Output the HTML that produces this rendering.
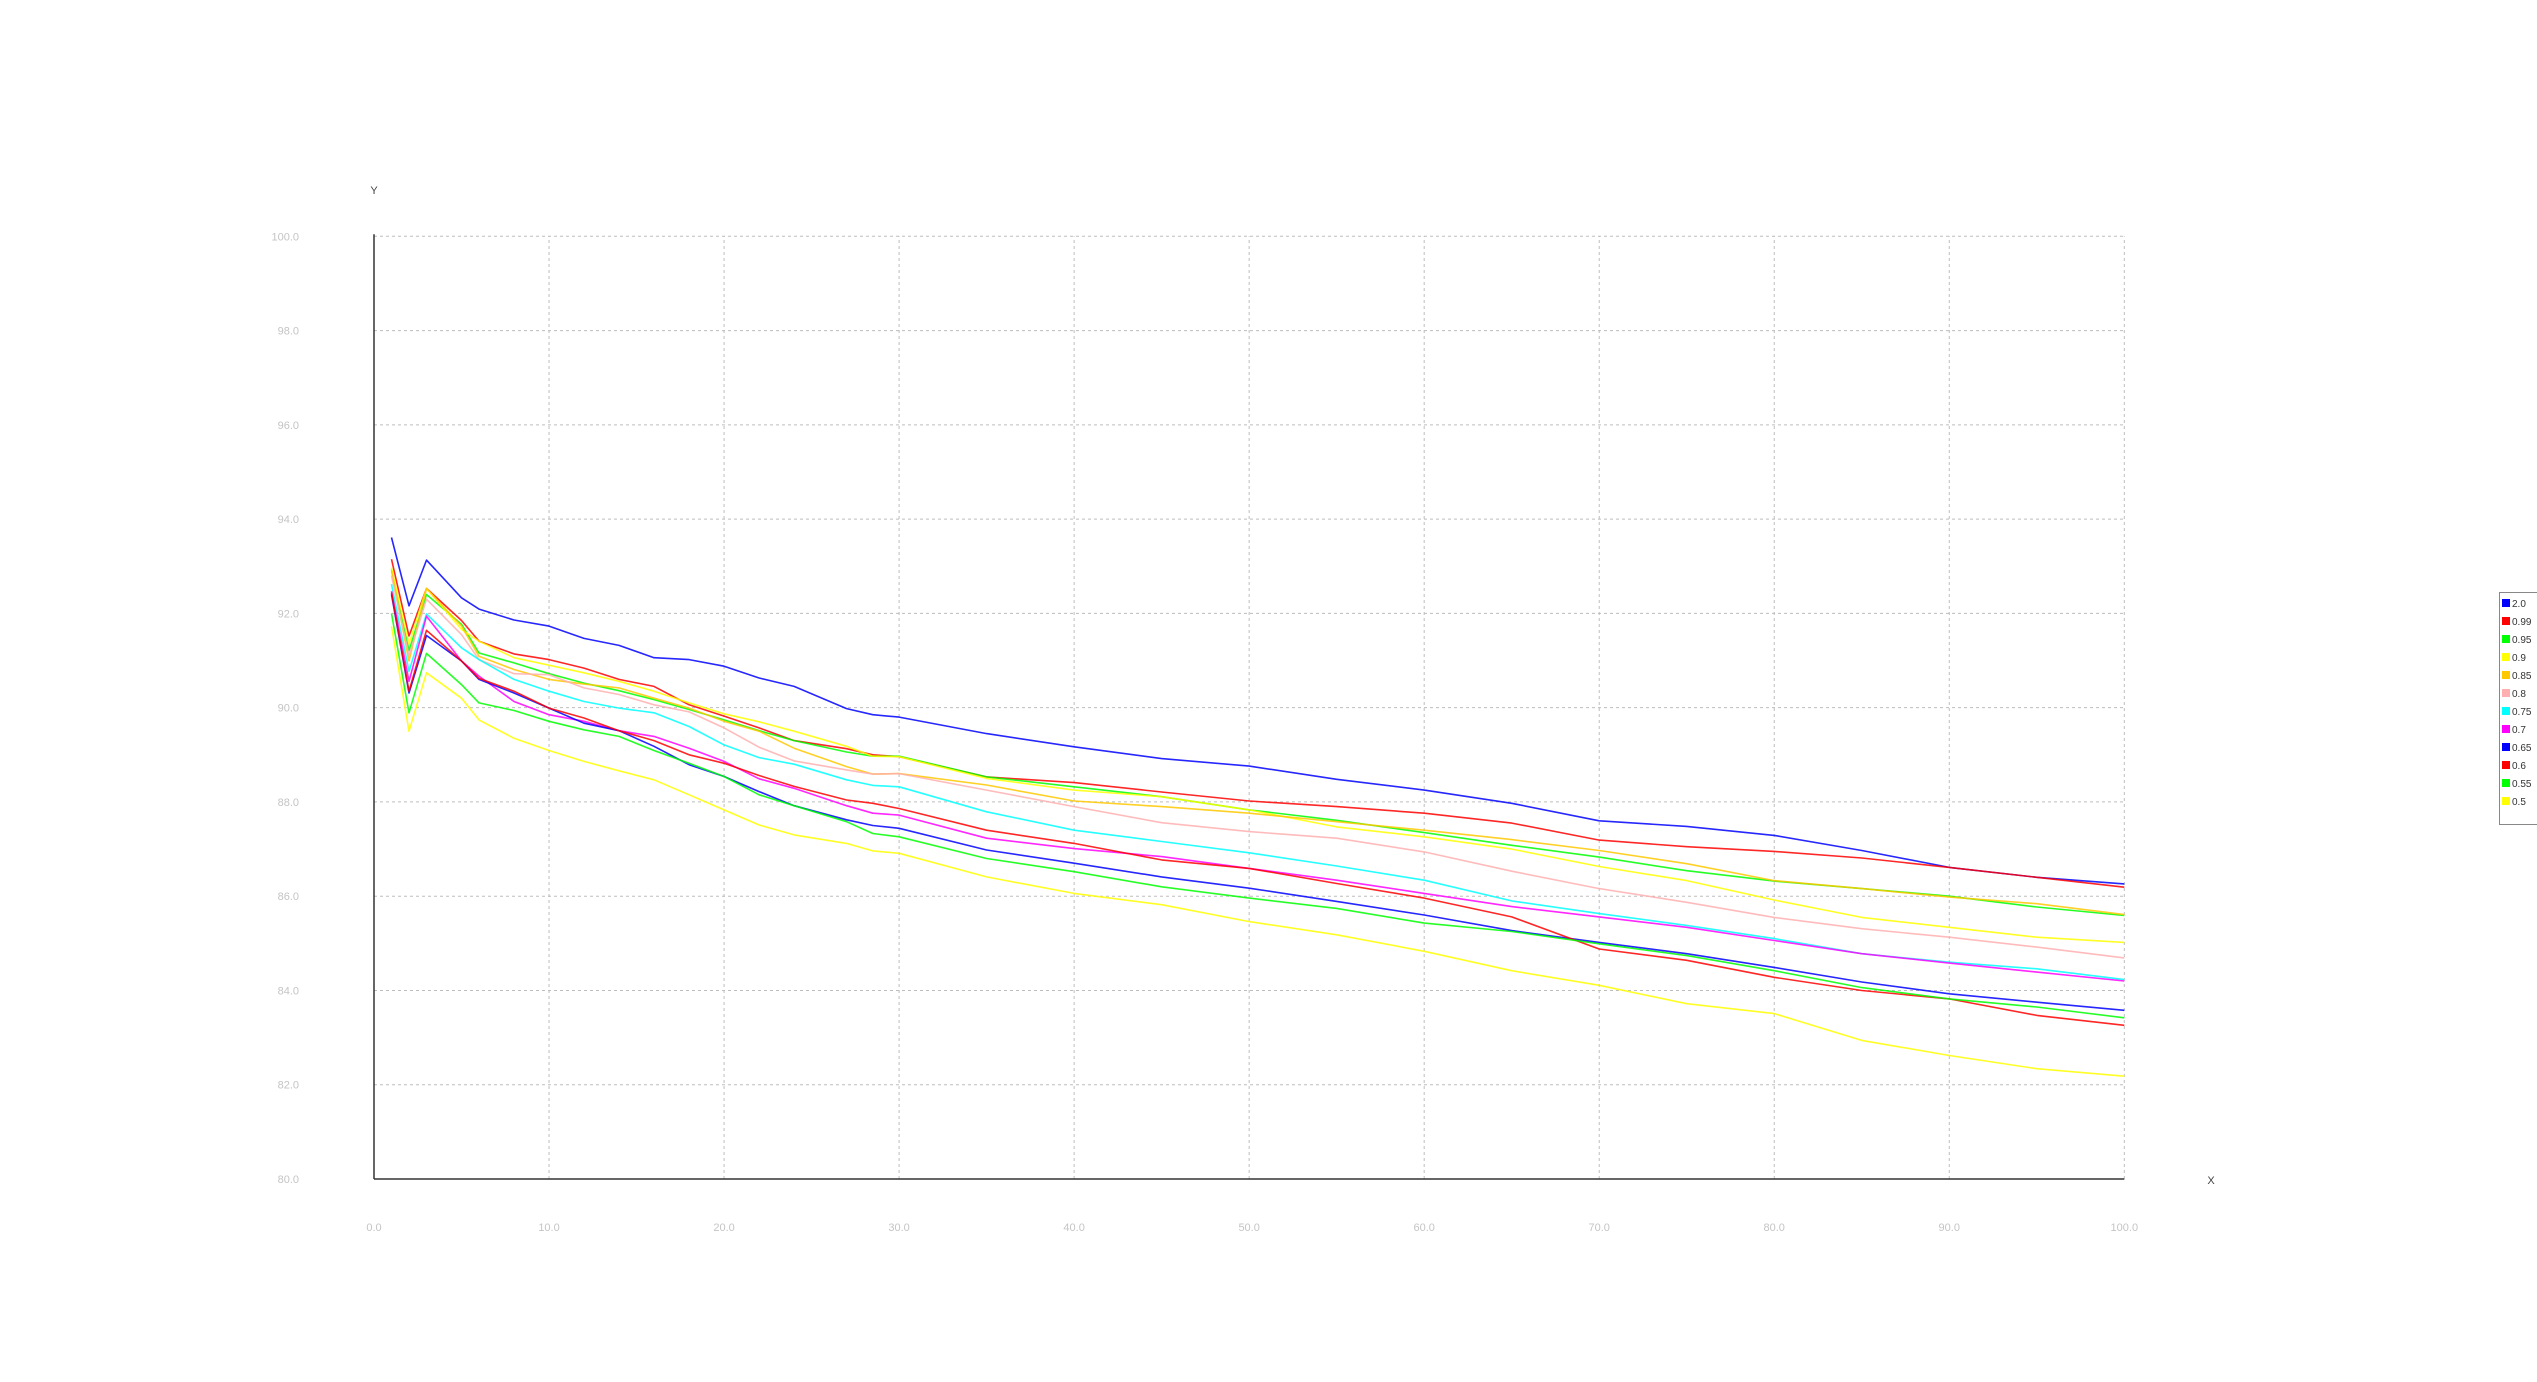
<!DOCTYPE html>
<html><head><meta charset="utf-8"><style>
html,body{margin:0;padding:0;background:#fff;}
svg{display:block;font-family:"Liberation Sans",sans-serif;}
</style></head><body>
<svg id="chart" width="2537" height="1382" xmlns="http://www.w3.org/2000/svg">
<g id="grid"></g>
<g id="axes"></g>
<g id="series"></g>
<g id="legend"></g>
</svg>
<script>
const xValues = [1,2,3,5,6,8,10,12,14,16,18,20,22,24,27,28.5,30,35,40,45,50,55,60,65,70,75,80,85,90,95,100];
const seriesNames = ["2.0","0.99","0.95","0.9","0.85","0.8","0.75","0.7","0.65","0.6","0.55","0.5"];
const seriesColors = ["#0000ff","#ff0000","#00ff00","#ffff00","#ffc800","#ffafaf","#00ffff","#ff00ff","#0000ff","#ff0000","#00ff00","#ffff00"];
const s20 = [93.61,92.16,93.13,92.33,92.09,91.86,91.73,91.47,91.32,91.06,91.02,90.88,90.63,90.45,89.98,89.85,89.8,89.45,89.17,88.92,88.76,88.48,88.25,87.97,87.6,87.48,87.29,86.97,86.61,86.4,86.26];
const s099 = [93.15,91.52,92.53,91.85,91.41,91.14,91.02,90.84,90.6,90.45,90.06,89.82,89.57,89.3,89.13,89.0,88.96,88.53,88.41,88.21,88.02,87.9,87.76,87.55,87.19,87.05,86.95,86.81,86.61,86.4,86.19];
const s095 = [92.94,91.21,92.4,91.77,91.16,90.95,90.72,90.52,90.36,90.17,89.96,89.74,89.51,89.3,89.06,88.97,88.97,88.53,88.32,88.11,87.83,87.61,87.35,87.08,86.83,86.54,86.32,86.16,86.0,85.77,85.59];
const s090 = [92.97,91.35,92.53,91.66,91.41,91.06,90.9,90.74,90.56,90.35,90.1,89.87,89.7,89.5,89.18,88.97,88.96,88.5,88.25,88.11,87.83,87.47,87.26,87.0,86.63,86.33,85.92,85.55,85.34,85.13,85.02];
const s085 = [92.9,90.99,92.53,91.73,91.09,90.81,90.6,90.5,90.42,90.2,89.99,89.71,89.5,89.14,88.75,88.59,88.6,88.36,88.02,87.9,87.76,87.58,87.4,87.2,86.97,86.69,86.33,86.16,85.98,85.84,85.61];
const s080 = [92.8,91.1,92.3,91.55,91.02,90.72,90.7,90.42,90.28,90.06,89.91,89.57,89.16,88.87,88.68,88.59,88.6,88.25,87.9,87.56,87.37,87.23,86.94,86.53,86.16,85.87,85.55,85.31,85.13,84.92,84.69];
const s075 = [92.62,90.77,91.99,91.27,91.02,90.6,90.35,90.13,89.99,89.89,89.6,89.21,88.94,88.8,88.47,88.35,88.32,87.79,87.4,87.16,86.92,86.64,86.34,85.9,85.63,85.38,85.1,84.78,84.6,84.46,84.23];
const s070 = [92.47,90.56,91.94,90.99,90.67,90.13,89.85,89.71,89.51,89.39,89.14,88.86,88.49,88.29,87.92,87.76,87.72,87.23,87.01,86.84,86.59,86.34,86.06,85.78,85.56,85.34,85.06,84.78,84.58,84.39,84.2];
const s065 = [92.4,90.31,91.53,90.99,90.6,90.31,89.99,89.67,89.51,89.18,88.79,88.54,88.22,87.92,87.62,87.5,87.44,86.98,86.7,86.41,86.17,85.89,85.6,85.27,85.02,84.78,84.49,84.18,83.93,83.75,83.58];
const s060 = [92.44,90.35,91.64,90.99,90.62,90.35,89.99,89.78,89.51,89.3,89.0,88.82,88.56,88.33,88.04,87.97,87.86,87.4,87.12,86.77,86.59,86.27,85.96,85.56,84.88,84.64,84.28,84.0,83.82,83.47,83.26];
const s055 = [92.0,89.89,91.15,90.49,90.1,89.94,89.71,89.53,89.39,89.09,88.82,88.54,88.15,87.92,87.58,87.33,87.26,86.8,86.52,86.2,85.96,85.74,85.43,85.25,84.99,84.74,84.42,84.06,83.82,83.65,83.42];
const s050 = [91.73,89.5,90.74,90.2,89.74,89.35,89.09,88.86,88.66,88.47,88.15,87.83,87.51,87.3,87.12,86.96,86.91,86.41,86.06,85.82,85.46,85.18,84.83,84.42,84.11,83.72,83.51,82.94,82.62,82.34,82.18];
const xTicks = ["0.0","10.0","20.0","30.0","40.0","50.0","60.0","70.0","80.0","90.0","100.0"];
const yTicks = ["80.0","82.0","84.0","86.0","88.0","90.0","92.0","94.0","96.0","98.0","100.0"];

const allSeries = [s20,s099,s095,s090,s085,s080,s075,s070,s065,s060,s055,s050];
const X0=374, X1=2124.3, Y0=1179, Y1=236.3, XMIN=0, XMAX=100, YMIN=80, YMAX=100;
function xs(v){return X0+(v-XMIN)/(XMAX-XMIN)*(X1-X0);}
function ys(v){return Y0-(v-YMIN)/(YMAX-YMIN)*(Y0-Y1);}
const NS="http://www.w3.org/2000/svg";
function mk(tag,attrs,parent){const e=document.createElementNS(NS,tag);for(const k in attrs)e.setAttribute(k,attrs[k]);parent.appendChild(e);return e;}
const grid=document.getElementById('grid'),axes=document.getElementById('axes'),ser=document.getElementById('series'),leg=document.getElementById('legend');

xTicks.forEach((t)=>{
  const v=parseFloat(t);const x=xs(v);
  if(v>XMIN){
    const l=mk('line',{x1:x,y1:Y0,x2:x,y2:Y1,stroke:'#bdbdbd','stroke-width':1,'stroke-dasharray':'3,3'},grid);
    
    
  }
  const tx=mk('text',{x:x,y:1231,'text-anchor':'middle','font-size':11,fill:'#c4c4c4'},axes);
  tx.textContent=t;
  
  
});
yTicks.forEach((t)=>{
  const v=parseFloat(t);const y=ys(v);
  if(v>YMIN){
    const l=mk('line',{x1:X0,y1:y,x2:X1,y2:y,stroke:'#bdbdbd','stroke-width':1,'stroke-dasharray':'3,3'},grid);
    
    
  }
  const tx=mk('text',{x:299,y:y+4,'text-anchor':'end','font-size':11,fill:'#c4c4c4'},axes);
  tx.textContent=t;
  
  
});
const ya=mk('line',{x1:X0,y1:Y1-2,x2:X0,y2:Y0,stroke:'#333','stroke-width':1.5},axes);


const xa=mk('line',{x1:X0,y1:Y0,x2:X1,y2:Y0,stroke:'#333','stroke-width':1.5},axes);


const yt=mk('text',{x:374,y:194,'text-anchor':'middle','font-size':11,fill:'#444'},axes);
yt.textContent='Y';


const xt=mk('text',{x:2211,y:1184,'text-anchor':'middle','font-size':11,fill:'#444'},axes);
xt.textContent='X';



allSeries.forEach((arr,i)=>{
  const pts=arr.map((v,j)=>xs(xValues[j]).toFixed(1)+','+ys(v).toFixed(1)).join(' ');
  const p=mk('polyline',{points:pts,fill:'none',stroke:seriesColors[i],'stroke-width':1.6,'stroke-opacity':0.85,'stroke-linejoin':'round'},ser);
  
  
});

const box=mk('rect',{x:2499.5,y:592.5,width:40,height:232,fill:'#fff',stroke:'#888','stroke-width':1},leg);


seriesNames.forEach((n,i)=>{
  const y=599+i*18;
  const r=mk('rect',{x:2502,y:y,width:8,height:8,fill:seriesColors[i]},leg);
  
  
  const t=mk('text',{x:2512,y:y+8,'font-size':10,fill:'#333'},leg);
  t.textContent=n;
  
  
});
</script>
</body></html>
